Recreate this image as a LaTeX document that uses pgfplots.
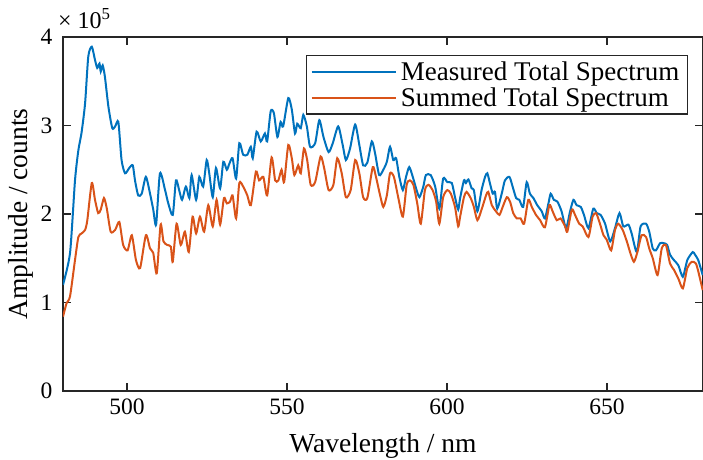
\documentclass[border=0pt]{standalone}
\usepackage{fontspec}
\setmainfont{Liberation Serif}
\usepackage{pgfplots}
\usepackage{pgfplotstable}
\pgfplotsset{compat=1.18}
\definecolor{mblue}{rgb}{0,0.447,0.741}
\definecolor{morange}{rgb}{0.85,0.325,0.098}
\definecolor{axgray}{rgb}{0.15,0.15,0.15}
\pgfplotstableread{
x y
480.0 1.20e5
482.2 1.56e5
483.75 2.38e5
484.8 2.72e5
485.8 2.92e5
486.9 3.25e5
487.9 3.78e5
489.0 3.89e5
490.0 3.74e5
490.7 3.65e5
491.4 3.70e5
491.8 3.61e5
492.4 3.68e5
493.1 3.55e5
494.2 3.21e5
495.4 2.97e5
496.3 2.99e5
497.3 3.04e5
498.3 2.61e5
499.4 2.46e5
500.7 2.52e5
501.8 2.55e5
502.5 2.38e5
503.5 2.21e5
504.6 2.23e5
505.9 2.42e5
507.2 2.23e5
508.2 2.05e5
509.1 1.88e5
510.3 2.46e5
511.9 2.27e5
512.9 2.12e5
514.3 1.99e5
515.3 2.38e5
516.3 2.27e5
517.2 2.16e5
518.4 2.31e5
519.5 2.18e5
520.2 2.44e5
521.6 2.16e5
522.6 2.42e5
523.8 2.31e5
524.9 2.61e5
525.7 2.46e5
526.8 2.19e5
527.8 2.52e5
529.1 2.29e5
530.1 2.59e5
531.2 2.50e5
532.0 2.57e5
533.0 2.63e5
534.1 2.40e5
535.1 2.80e5
536.3 2.67e5
537.6 2.67e5
538.7 2.76e5
539.3 2.63e5
540.5 2.93e5
541.8 2.82e5
543.1 2.91e5
543.8 2.82e5
544.9 3.16e5
545.9 3.14e5
547.0 2.87e5
548.0 3.04e5
548.8 2.99e5
550.4 3.31e5
551.5 3.18e5
552.5 2.91e5
553.2 3.02e5
554.3 2.97e5
555.1 3.12e5
556.2 2.99e5
557.2 2.76e5
558.8 2.80e5
560.1 3.06e5
561.4 2.87e5
563.0 2.70e5
564.3 2.80e5
566.0 2.99e5
567.4 2.78e5
568.4 2.61e5
569.7 2.74e5
571.3 3.01e5
572.6 2.78e5
573.8 2.55e5
575.1 2.58e5
576.5 2.82e5
577.5 2.69e5
578.8 2.44e5
580.1 2.50e5
581.2 2.59e5
582.2 2.76e5
583.2 2.61e5
584.1 2.63e5
585.1 2.42e5
586.2 2.27e5
587.2 2.42e5
588.2 2.53e5
589.3 2.42e5
590.5 2.27e5
591.4 2.19e5
592.6 2.31e5
593.4 2.44e5
594.9 2.44e5
596.3 2.31e5
597.6 2.06e5
598.8 2.40e5
600.1 2.36e5
601.5 2.35e5
602.5 2.19e5
603.5 2.05e5
604.1 2.18e5
605.3 2.38e5
605.9 2.35e5
606.7 2.39e5
607.7 2.29e5
608.4 2.27e5
609.5 2.03e5
610.8 2.27e5
611.9 2.42e5
612.6 2.46e5
613.4 2.35e5
614.3 2.23e5
615.0 2.25e5
615.7 2.06e5
617.1 2.23e5
618.1 2.38e5
619.5 2.42e5
620.5 2.31e5
621.6 2.18e5
622.6 2.16e5
623.8 2.08e5
624.9 2.36e5
625.9 2.23e5
627.0 2.18e5
628.2 2.10e5
629.6 2.03e5
630.6 1.95e5
631.7 2.12e5
632.4 2.23e5
633.4 2.16e5
634.5 2.14e5
635.8 2.03e5
637.2 1.84e5
638.4 2.02e5
639.5 2.16e5
640.5 2.10e5
641.8 2.08e5
642.8 1.99e5
644.2 1.84e5
645.7 2.06e5
646.8 2.01e5
648.0 1.99e5
649.4 1.89e5
651.0 1.69e5
652.5 1.84e5
653.9 2.01e5
655.1 1.86e5
656.7 1.88e5
657.7 1.78e5
659.3 1.57e5
660.5 1.86e5
662.2 1.89e5
663.2 1.80e5
664.3 1.61e5
665.3 1.59e5
666.6 1.67e5
667.8 1.67e5
668.8 1.65e5
669.7 1.54e5
670.9 1.48e5
672.3 1.42e5
673.7 1.29e5
675.1 1.48e5
676.8 1.57e5
677.5 1.54e5
678.5 1.48e5
679.9 1.31e5
}\measured
\pgfplotstableread{
x y
480.0 0.84e5
481.1 0.99e5
482.2 1.07e5
483.75 1.48e5
484.8 1.74e5
485.8 1.78e5
486.9 1.82e5
487.6 1.93e5
489.0 2.35e5
490.0 2.16e5
491.0 2.01e5
491.8 2.05e5
492.8 2.18e5
493.7 2.06e5
494.9 1.80e5
496.3 1.82e5
497.6 1.91e5
498.8 1.65e5
500.2 1.59e5
501.5 1.76e5
502.8 1.48e5
504.1 1.39e5
505.9 1.76e5
507.2 1.61e5
508.2 1.56e5
509.3 1.33e5
510.5 1.88e5
511.4 1.69e5
512.6 1.65e5
513.7 1.63e5
514.3 1.46e5
515.5 1.89e5
516.8 1.65e5
518.1 1.80e5
519.3 1.57e5
520.5 1.97e5
521.6 1.78e5
522.8 1.97e5
524.1 1.80e5
525.4 2.10e5
526.8 1.86e5
528.0 2.16e5
529.1 1.88e5
530.3 2.18e5
531.2 2.12e5
532.2 2.14e5
533.0 2.21e5
534.1 1.95e5
535.1 2.35e5
536.3 2.31e5
537.6 2.21e5
538.7 2.10e5
540.3 2.48e5
541.3 2.38e5
542.6 2.42e5
543.8 2.21e5
545.2 2.64e5
546.3 2.38e5
547.3 2.38e5
548.3 2.50e5
549.1 2.36e5
550.4 2.78e5
551.5 2.63e5
552.3 2.44e5
553.5 2.55e5
554.3 2.46e5
555.3 2.74e5
556.3 2.61e5
557.4 2.33e5
558.8 2.36e5
560.5 2.65e5
561.6 2.52e5
563.0 2.27e5
564.5 2.33e5
565.7 2.63e5
567.1 2.46e5
568.4 2.19e5
569.9 2.27e5
571.3 2.61e5
572.6 2.46e5
573.8 2.19e5
575.1 2.18e5
576.8 2.53e5
577.8 2.42e5
579.1 2.21e5
580.1 2.08e5
581.2 2.21e5
582.2 2.46e5
583.4 2.42e5
584.8 2.18e5
586.2 1.97e5
587.4 2.33e5
588.4 2.38e5
589.5 2.33e5
590.7 2.12e5
591.8 1.89e5
593.1 2.27e5
594.2 2.33e5
595.5 2.27e5
596.6 2.14e5
597.6 1.89e5
598.8 2.19e5
600.1 2.27e5
601.2 2.23e5
602.5 2.08e5
603.5 1.86e5
604.1 1.97e5
605.3 2.19e5
606.1 2.25e5
607.4 2.18e5
608.4 2.08e5
609.5 1.93e5
610.8 2.05e5
612.2 2.21e5
612.9 2.25e5
614.0 2.10e5
615.3 2.03e5
616.4 1.99e5
617.4 2.08e5
618.7 2.19e5
619.7 2.14e5
620.7 2.01e5
621.8 1.95e5
623.0 1.95e5
624.1 1.89e5
625.4 2.16e5
626.5 2.08e5
627.8 1.99e5
629.1 1.93e5
630.6 1.85e5
632.0 2.10e5
633.0 2.03e5
634.3 1.93e5
635.5 1.95e5
636.9 1.86e5
637.6 1.80e5
639.0 2.05e5
640.0 1.99e5
641.3 1.89e5
642.4 1.86e5
644.2 1.74e5
645.5 1.97e5
646.6 2.01e5
647.8 1.89e5
648.9 1.76e5
649.9 1.71e5
651.3 1.59e5
652.5 1.82e5
653.5 1.89e5
654.9 1.82e5
656.2 1.69e5
657.2 1.57e5
658.4 1.46e5
659.5 1.57e5
660.8 1.76e5
662.2 1.74e5
663.2 1.61e5
664.3 1.50e5
665.8 1.31e5
667.1 1.61e5
668.4 1.65e5
669.7 1.44e5
670.9 1.37e5
672.3 1.27e5
673.7 1.16e5
675.1 1.39e5
676.5 1.46e5
677.8 1.44e5
678.8 1.31e5
679.9 1.14e5
}\summed
\begin{document}
\begin{tikzpicture}
\path[use as bounding box] (-63pt,-68pt) rectangle (640pt,391pt);
\begin{axis}[
  at={(0,0)}, anchor=south west,
  scale only axis, width=640pt, height=354pt,
  xmin=480, xmax=680, ymin=0, ymax=4e5,
  xtick={500,550,600,650}, ytick={0,1e5,2e5,3e5,4e5},
  scaled y ticks=base 10:-5,
  ytick scale label code/.code={× 10\textsuperscript{5}},
  every y tick scale label/.style={at={(rel axis cs:0,1)}, anchor=south west, inner sep=0pt, yshift=8pt, xshift=2pt, font=\fontsize{24}{28}\selectfont},
  tick align=inside, major tick length=8pt,
  axis line style={axgray, line width=1.2pt},
  every tick/.style={axgray, line width=1.2pt},
  ticklabel style={font=\fontsize{23.5}{28}\selectfont},
  yticklabel style={xshift=-7pt},
  xticklabel style={yshift=-4pt},
  /pgf/number format/assume math mode=true,
  xlabel={Wavelength / nm}, ylabel={Amplitude / counts},
  label style={font=\fontsize{27.5}{32}\selectfont},
  xlabel style={at={(axis description cs:0.5,0)}, anchor=base, yshift=-61pt},
  ylabel style={at={(axis description cs:-0.066,0.5)}, anchor=center},
  legend style={at={(rel axis cs:1,1)}, anchor=north east, xshift=-15pt, yshift=-18pt,
    draw=axgray, line width=1.2pt, font=\fontsize{27}{32}\selectfont,
    nodes={inner ysep=0pt, inner xsep=4pt}, row sep=6pt, inner xsep=4pt, inner ysep=6pt},
  legend cell align=left,
  legend image code/.code={\draw[#1, line width=2pt] (0pt,0pt) -- (78pt,0pt); \path (0pt,0pt) -- (84pt,0pt);},
]
\addplot[mblue, line width=2pt, smooth, tension=0.4] table[x=x,y=y] {\measured};
\addlegendentry{Measured Total Spectrum}
\addplot[morange, line width=2pt, smooth, tension=0.4] table[x=x,y=y] {\summed};
\addlegendentry{Summed Total Spectrum}
\end{axis}
\end{tikzpicture}
\end{document}
